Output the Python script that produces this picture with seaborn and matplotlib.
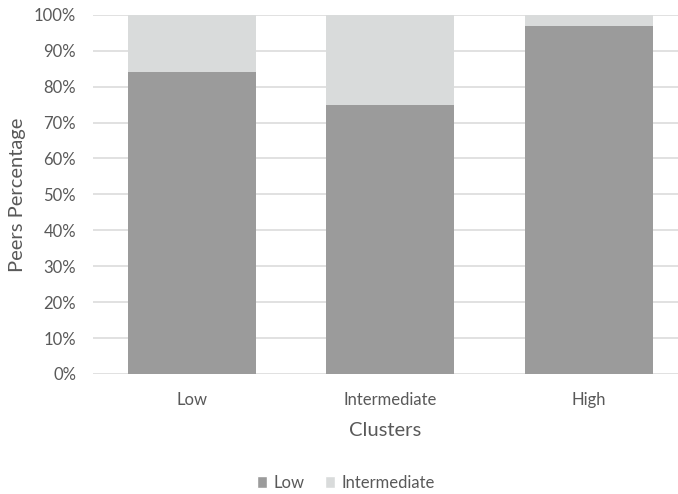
import matplotlib
matplotlib.use("Agg")
import matplotlib.pyplot as plt
from matplotlib.patches import Patch
from matplotlib.ticker import PercentFormatter
import pandas as pd
import seaborn as sns

clusters = ["Low", "Intermediate", "High"]
low_share = [84, 75, 97]
intermediate_share = [16, 25, 3]

LOW_COLOR = "#9b9b9b"
INTER_COLOR = "#d9dbdb"
TEXT_COLOR = "#595959"

sns.set_theme(style="white")
plt.rcParams["font.family"] = ["Lato", "DejaVu Sans"]

df = pd.DataFrame({
    "cluster": clusters,
    "low": low_share,
    "total": [a + b for a, b in zip(low_share, intermediate_share)],
})

fig = plt.figure(figsize=(6.78, 4.94), dpi=100)
ax = fig.add_axes([0.137, 0.243, 0.863, 0.727])

# stacked bars: full height in the light shade, lower segment on top of it
sns.barplot(data=df, x="cluster", y="total", color=INTER_COLOR, width=0.645,
            saturation=1, linewidth=0, ax=ax, zorder=2)
sns.barplot(data=df, x="cluster", y="low", color=LOW_COLOR, width=0.645,
            saturation=1, linewidth=0, ax=ax, zorder=3)

ax.set_ylim(0, 100)
ax.set_xlim(-0.5, 2.45)
ax.set_yticks(range(0, 101, 10))
ax.yaxis.set_major_formatter(PercentFormatter(decimals=0))
ax.yaxis.grid(True, color="#dcdcdc", linewidth=1.2, zorder=0)
ax.set_axisbelow(True)
for s in ax.spines.values():
    s.set_visible(False)
ax.tick_params(axis="both", length=0, labelsize=12, colors=TEXT_COLOR)
ax.tick_params(axis="x", pad=13)
ax.tick_params(axis="y", pad=12)

ax.set_xlabel("Clusters", fontsize=14.5, color=TEXT_COLOR, labelpad=10)
ax.set_ylabel("Peers Percentage", fontsize=14.5, color=TEXT_COLOR, labelpad=6)

handles = [Patch(facecolor=LOW_COLOR, label="Low"),
           Patch(facecolor=INTER_COLOR, label="Intermediate")]
fig.legend(handles=handles, loc="center", bbox_to_anchor=(0.51, 0.023),
           ncol=2, frameon=False, fontsize=12, labelcolor=TEXT_COLOR,
           handlelength=0.6, handleheight=0.7, handletextpad=0.4,
           columnspacing=1.2)

fig.savefig("out.png", dpi=100, facecolor="white")
